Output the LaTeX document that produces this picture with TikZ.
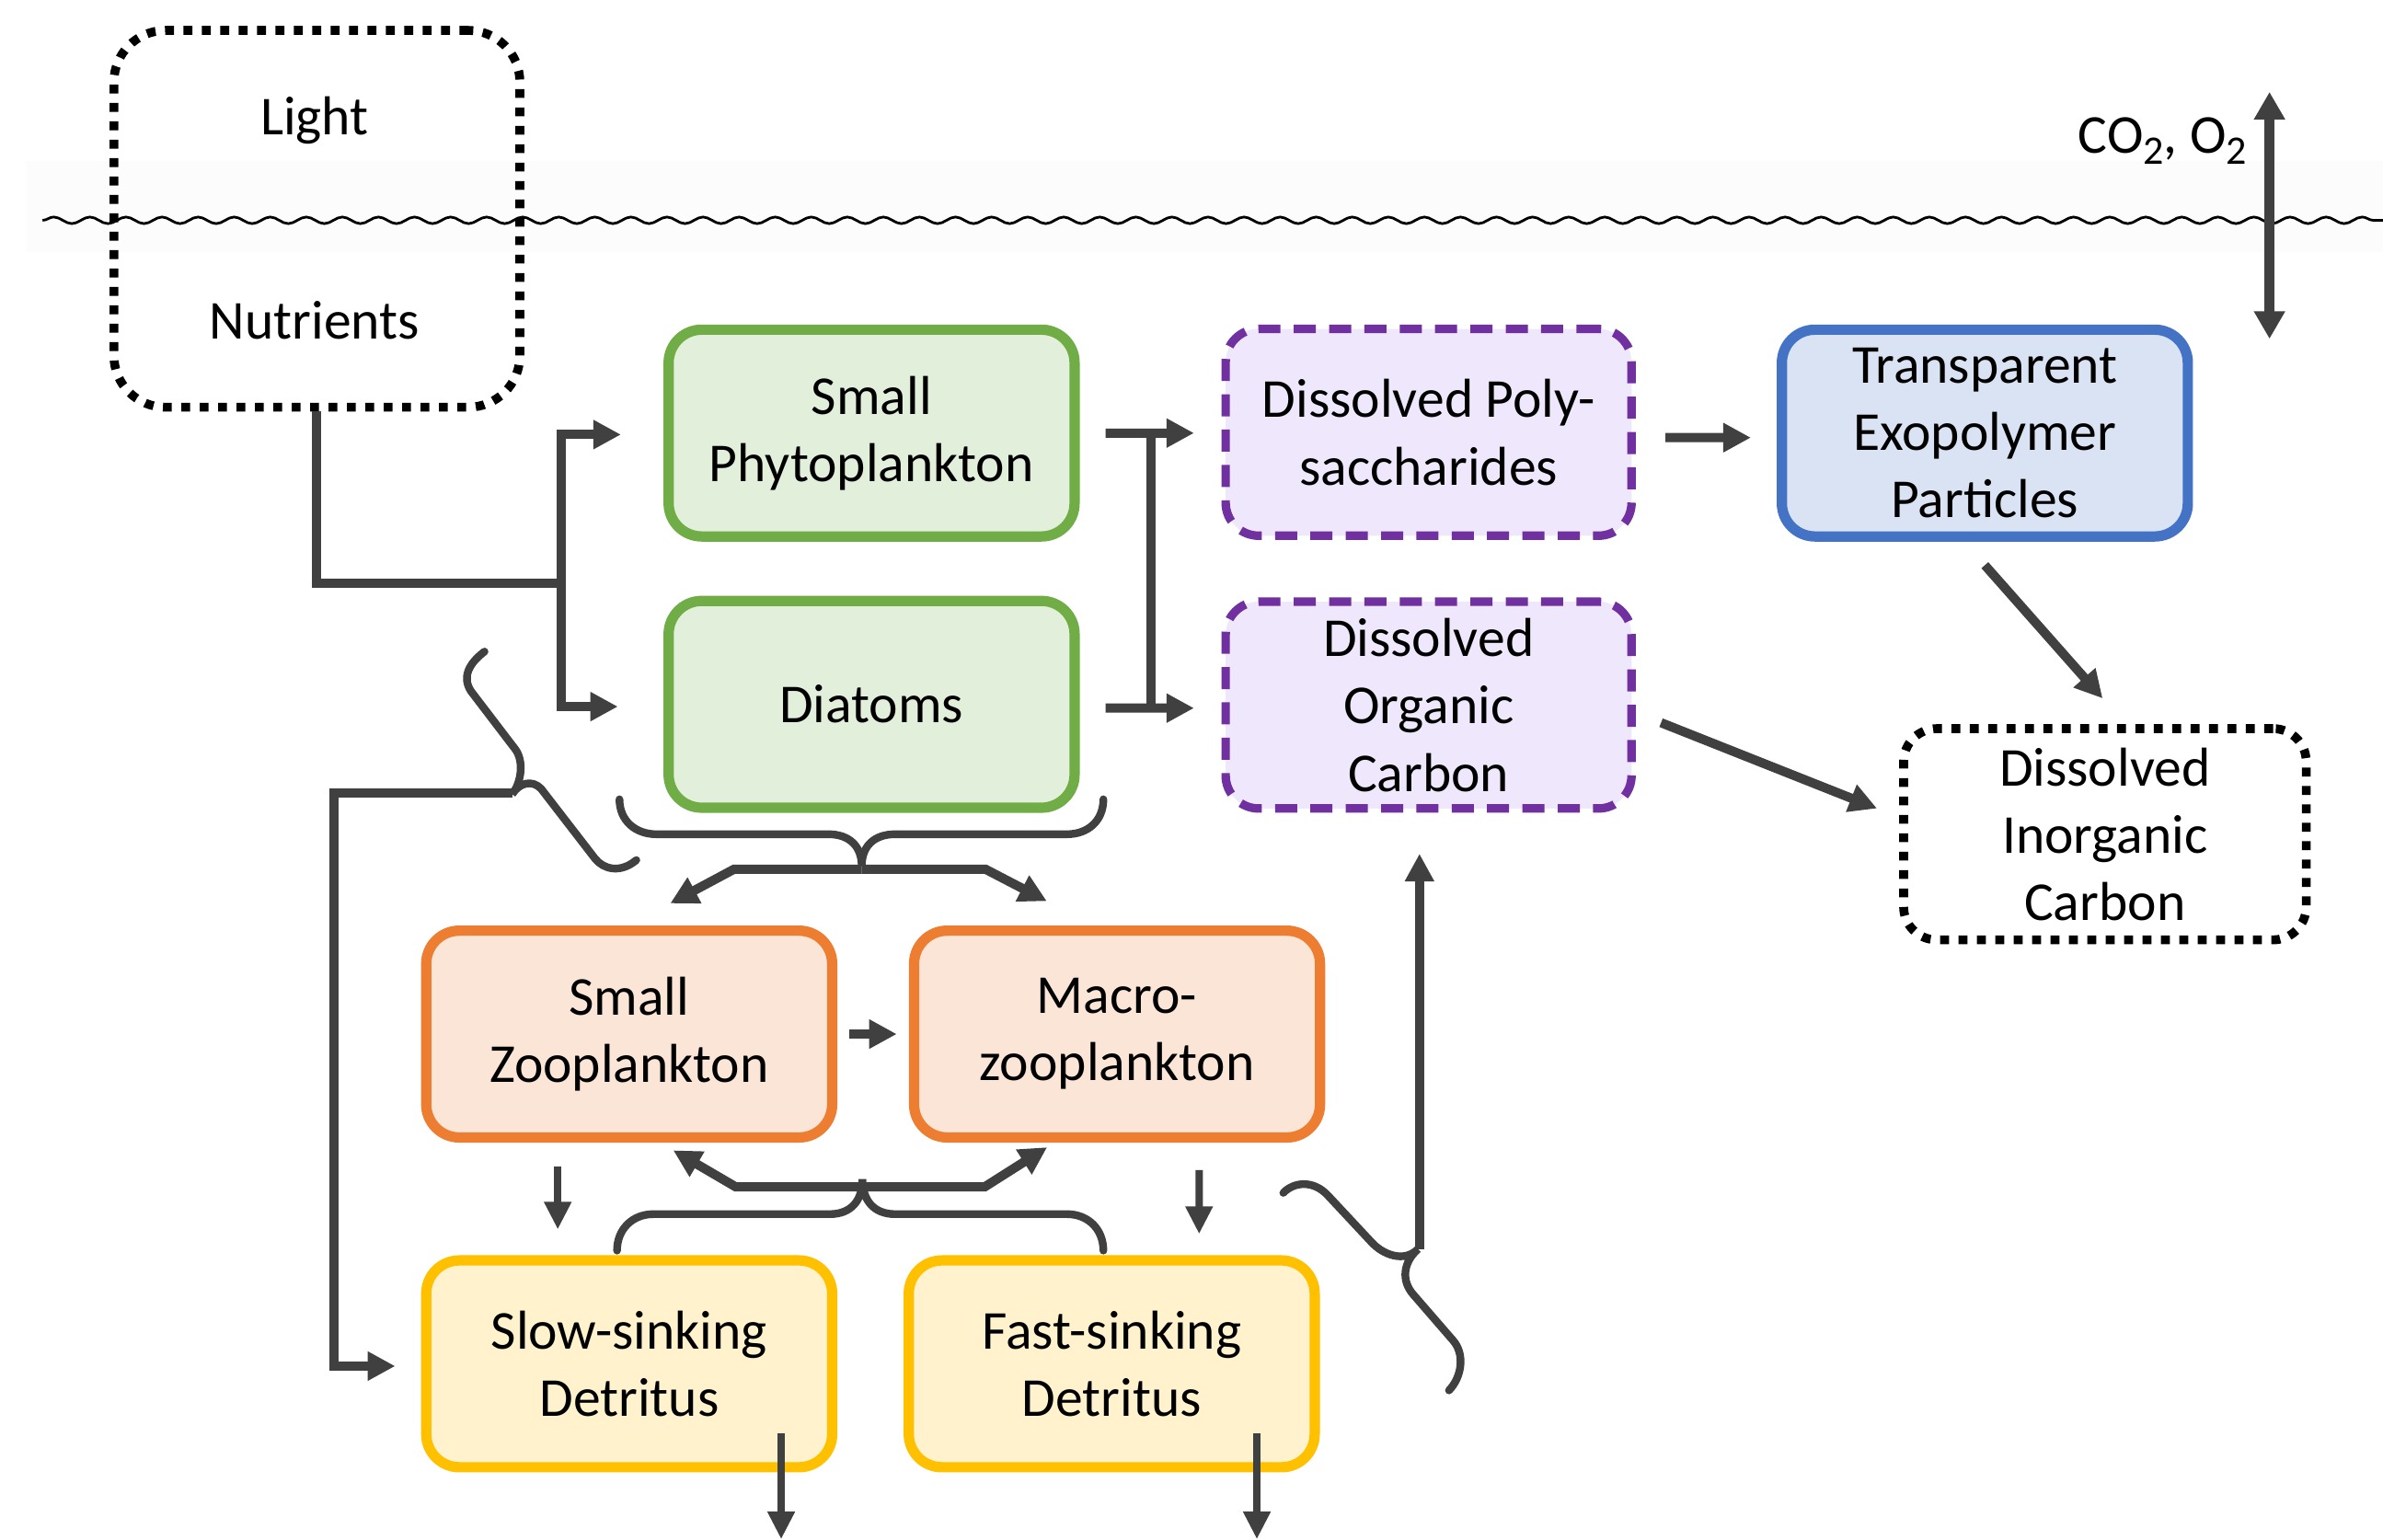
\documentclass[tikz,border=0pt]{standalone}
\usepackage{fontspec}
\setmainfont{Carlito}
\usetikzlibrary{arrows.meta,decorations.pathmorphing,calc}
\definecolor{cn}{HTML}{404040}
\definecolor{grnL}{HTML}{70AD47}\definecolor{grnF}{HTML}{E2EFDA}
\definecolor{purL}{HTML}{7030A0}\definecolor{purF}{HTML}{EFE7FB}
\definecolor{bluL}{HTML}{4472C4}\definecolor{bluF}{HTML}{DAE3F3}
\definecolor{orgL}{HTML}{ED7D31}\definecolor{orgF}{HTML}{FBE5D6}
\definecolor{ylwL}{HTML}{FFC000}\definecolor{ylwF}{HTML}{FFF2CC}
\definecolor{band}{HTML}{FCFCFC}
\newcommand{\gsub}[1]{\raisebox{-3pt}{\fontsize{11}{11}\selectfont #1}}
\begin{document}
\begin{tikzpicture}[x=0.41295pt,y=-0.41295pt,
  txt/.style={font=\fontsize{14.9}{18.3}\selectfont, align=center, inner sep=0pt},
  box/.style={txt, rectangle, rounded corners=9pt, line width=2.8pt, minimum width=110.3pt, minimum height=56.2pt},
  greenbox/.style={box, draw=grnL, fill=grnF},
  purplebox/.style={box, draw=purL, fill=purF, line width=2.3pt, dash pattern=on 6pt off 3.6pt},
  bluebox/.style={box, draw=bluL, fill=bluF},
  orangebox/.style={box, draw=orgL, fill=orgF},
  yellowbox/.style={box, draw=ylwL, fill=ylwF},
  dotbox/.style={box, draw=black, line width=2.4pt, dash pattern=on 2.4pt off 2.6pt},
  link/.style={draw=cn, line width=2.5pt},
  arr/.style={link, -{Triangle[width=7.5pt,length=7.5pt]}},
  thinarr/.style={draw=cn, line width=2pt, -{Triangle[width=7pt,length=7.5pt]}},
  bracepath/.style={draw=cn, line width=2.1pt, line cap=round},
]
\useasboundingbox (0,0) rectangle (1568,1013);
\fill[white] (0,0) rectangle (1568,1013);
% sea surface
\fill[band] (17,106) rectangle (1568,166);
\draw[line width=0.7pt, decorate, decoration={snake, segment length=9.8pt, amplitude=0.9pt}] (28,145) -- (1568,145);

% light / nutrients
\node[dotbox, minimum height=102.4pt, rounded corners=14pt] (light) at (208.5,144) {};
\node[txt, anchor=base] (lighttxt) at (207,89) {Light};
\node[txt, anchor=base] (nuttxt) at (207,223) {Nutrients};

% gas exchange
\node[txt, anchor=base west] (gas) at (1367,101) {CO\gsub{2}, O\gsub{2}};
\coordinate (gasup) at (1493.3,60.5);
\coordinate (gasdown) at (1493.3,223);
\draw[draw=cn, line width=2.6pt, {Triangle[width=8pt,length=7.5pt]}-{Triangle[width=8pt,length=7.5pt]}] (gasup) -- (gasdown);

% boxes
\node[greenbox] (sp) at (573.5,285) {Small\\Phytoplankton};
\node[greenbox] (dia) at (573.5,463.5) {Diatoms};
\node[purplebox] (dps) at (940,284.5) {Dissolved Poly-\\saccharides};
\node[purplebox] (doc) at (940,464) {Dissolved\\Organic\\Carbon};
\node[bluebox] (tep) at (1306,285) {Transparent\\Exopolymer\\Particles};
\node[dotbox, fill=white, minimum width=109.4pt, minimum height=57.4pt] (dic) at (1385,549) {Dissolved\\Inorganic\\Carbon};
\node[orangebox] (sz) at (414,680.5) {Small\\Zooplankton};
\node[orangebox] (mz) at (735,680.5) {Macro-\\zooplankton};
\node[yellowbox] (sd) at (414,897.5) {Slow-sinking\\Detritus};
\node[yellowbox] (fd) at (731.5,897.5) {Fast-sinking\\Detritus};

% nutrients to phytoplankton
\coordinate (nj) at (369,384);
\draw[link] (light.south) |- (nj);
\draw[arr] (nj) |- ($(sp.west)+(-28,1)$);
\draw[arr] (nj) |- ($(dia.west)+(-30,1.5)$);

% phytoplankton to DPS / DOC
\draw[arr] ($(sp.east)+(17,0)$) -- ($(dps.west)+(-18,0.5)$);
\draw[arr] ($(dia.east)+(17,2.5)$) -- ($(doc.west)+(-18,2)$);
\coordinate (vt) at ($(sp.east)+(47,0)$);
\coordinate (vb) at ($(dia.east)+(47,2.5)$);
\draw[link] (vt) -- (vb);

% DPS to TEP, TEP to DIC, DOC to DIC
\draw[arr] ($(dps.east)+(19.5,3.5)$) -- ($(tep.west)+(-17,3)$);
\draw[arr] ($(tep.south)+(0,15.5)$) -- ($(dic.north)+(-1.5,-17)$);
\draw[arr] ($(doc.east)+(16.6,11.6)$) -- ($(dic.west)+(-14.6,-17)$);

% brace under phytoplankton
\draw[bracepath] (407.6,526) .. controls (407.6,540) and (418,549) .. (432,549) -- (545,549) .. controls (559,549) and (567,557) .. (567,570) .. controls (567,557) and (575,549) .. (589,549) -- (702,549) .. controls (716,549) and (726,540) .. (726,526);
\coordinate (gz) at (567,572);
\draw[arr] (gz) -- (483,572) -- (441,594.5);
\draw[arr] (gz) -- (648.4,572) -- (688.8,593);

% small zoo to macrozoo
\draw[arr] ($(sz.east)+(7.7,0)$) -- ($(mz.west)+(-8,0)$);

% zooplankton to detritus
\draw[thinarr] ($(sz.south)+(-47,16)$) -- ($(sd.north)+(-47,-17)$);
\draw[thinarr] ($(mz.south)+(54,18)$) -- ($(fd.north)+(57.5,-14)$);

% brace above detritus
\draw[bracepath] (406,823) .. controls (406,809) and (416,799) .. (430,799) -- (546,799) .. controls (560,799) and (567.5,790) .. (567.5,776) .. controls (567.5,790) and (575,799) .. (589,799) -- (702,799) .. controls (716,799) and (726,809) .. (726,823);
\coordinate (gd) at (567.5,781);
\draw[arr] (gd) -- (484,781) -- (443,757);
\draw[arr] (gd) -- (648,781) -- (689,755);

% left brace and return arrow to slow-sinking detritus
\draw[bracepath] (318.8,428.8) .. controls (308,437) and (304,446) .. (310,455) -- (339,493) .. controls (345,501) and (343,515) .. (337,522.6) .. controls (342,515) and (350,513) .. (356,519) -- (391.5,565) .. controls (397,572) and (408,575) .. (418.7,566);
\coordinate (lb) at (337,521.8);
\draw[arr] (lb) -- (220,521.8) |- ($(sd.west)+(-17,1.5)$);

% right brace and arrow to DOC
\draw[bracepath] (844.4,785) .. controls (851,778) and (864,776) .. (874,787) -- (902,817) .. controls (910,826) and (924,831) .. (933,822) .. controls (923,831) and (922,843) .. (930,852) -- (956,882) .. controls (964,891) and (962,906) .. (953.4,915);
\coordinate (rb) at (934,822);
\draw[arr] (rb) -- ($(doc.south)+(-6,27)$);

% detritus sinking
\draw[thinarr] ($(sd.south)+(100,-26)$) -- ($(sd.south)+(100,44)$);
\draw[thinarr] ($(fd.south)+(95.5,-26)$) -- ($(fd.south)+(95.5,44)$);
\end{tikzpicture}
\end{document}
